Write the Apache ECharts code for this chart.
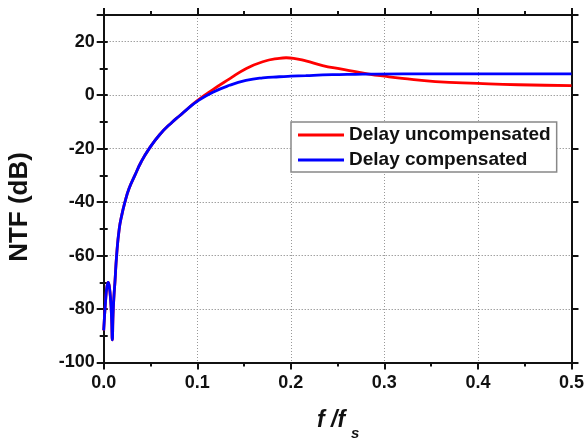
<!DOCTYPE html>
<html>
<head>
<meta charset="utf-8">
<script src="https://cdn.jsdelivr.net/npm/echarts@6/dist/echarts.min.js"></script>
<style>
  html, body { margin: 0; padding: 0; background: #fff; }
  #chart { width: 587px; height: 441px; }
</style>
</head>
<body>
<div id="chart"></div>
<script>
// Noise transfer function magnitude vs. normalised frequency.
// Low-frequency part (notch + rising skirt) is common to both loops.
const freqLow = [0, 0.002, 0.0035, 0.0048, 0.006, 0.0075, 0.0085, 0.0092, 0.0100, 0.011, 0.012,
                 0.0138, 0.0166, 0.0195, 0.0227, 0.027, 0.0333, 0.04, 0.0486, 0.06, 0.0734,
                 0.0812, 0.09];
const ntfLow  = [-88, -77, -71.5, -70, -71.5, -77, -84, -91.5, -82, -75, -70,
                 -60, -50, -44.6, -40, -35, -30, -25, -20, -14.7, -10,
                 -7.7, -5.0];

// Above ~0.1 fs the two cases separate.
const freqUncomp = [0.1, 0.1167, 0.1345, 0.152, 0.17, 0.1877, 0.195, 0.203, 0.216, 0.234,
                    0.2516, 0.269, 0.2835, 0.3, 0.319, 0.3545, 0.4, 0.443, 0.5];
const ntfUncomp  = [-2.0, 2.1, 6.1, 9.9, 12.5, 13.8, 14.0, 13.8, 12.8, 11.1,
                    9.9, 8.8, 7.9, 7.1, 6.3, 5.1, 4.4, 3.9, 3.6];

const freqComp = [0.1, 0.1167, 0.1345, 0.152, 0.17, 0.1877, 0.2, 0.216, 0.234,
                  0.2516, 0.269, 0.29, 0.35, 0.4, 0.5];
const ntfComp  = [-2.3, 1.1, 3.7, 5.5, 6.5, 6.9, 7.1, 7.3, 7.6,
                  7.7, 7.8, 7.9, 8.0, 8.0, 8.0];

const xTicks = ['0.0', '0.1', '0.2', '0.3', '0.4', '0.5'];
const yTicks = [-100, -80, -60, -40, -20, 0, 20];
const seriesNames = ['Delay uncompensated', 'Delay compensated'];

function pairs(xs, ys) { return xs.map((x, i) => [x, ys[i]]); }

const FONT = '"Liberation Sans", Arial, sans-serif';
const black = '#111';
const axisLine = { show: true, onZero: false, lineStyle: { color: black, width: 2 } };

const chart = echarts.init(document.getElementById('chart'), null, { renderer: 'canvas' });

const xBase = { type: 'value', min: 0, max: 0.5, interval: 0.1 };
const yBase = { type: 'value', min: -100, max: 30 };

chart.setOption({
  animation: false,
  backgroundColor: '#fff',
  grid: { left: 103.7, right: 14, top: 15, bottom: 78.5, containLabel: false },
  xAxis: [
    Object.assign({}, xBase, {
      position: 'bottom',
      axisLine: axisLine,
      axisTick: { show: true, length: 7, lineStyle: { color: black, width: 2 } },
      minorTick: { show: true, splitNumber: 2, length: 4, lineStyle: { color: black, width: 2 } },
      axisLabel: {
        margin: 12, color: black, fontFamily: FONT, fontWeight: 'bold', fontSize: 18,
        formatter: v => xTicks[Math.round(v * 10)] || ''
      },
      splitLine: { show: true, lineStyle: { color: '#999', type: [1, 2], width: 1 } }
    }),
    Object.assign({}, xBase, {
      position: 'top',
      axisLine: axisLine,
      axisTick: { show: true, length: 7, lineStyle: { color: black, width: 2 } },
      minorTick: { show: true, splitNumber: 2, length: 4, lineStyle: { color: black, width: 2 } },
      axisLabel: { show: false },
      splitLine: { show: false }
    })
  ],
  yAxis: [
    Object.assign({}, yBase, {
      position: 'left', interval: 20,
      axisLine: axisLine,
      axisTick: { show: true, length: 7, lineStyle: { color: black, width: 2 } },
      axisLabel: {
        margin: 9, color: black, fontFamily: FONT, fontWeight: 'bold', fontSize: 18,
        formatter: v => (yTicks.indexOf(v) >= 0 ? String(v) : '')
      },
      splitLine: { show: true, lineStyle: { color: '#777', type: [1, 2], width: 1 } }
    }),
    Object.assign({}, yBase, {
      position: 'left', interval: 10,
      axisLine: { show: false },
      axisTick: { show: true, length: 4, lineStyle: { color: black, width: 2 } },
      axisLabel: { show: false },
      splitLine: { show: false }
    }),
    Object.assign({}, yBase, {
      position: 'right', interval: 20,
      axisLine: axisLine,
      axisTick: { show: true, length: 7, lineStyle: { color: black, width: 2 } },
      axisLabel: { show: false },
      splitLine: { show: false }
    }),
    Object.assign({}, yBase, {
      position: 'right', interval: 10,
      axisLine: { show: false },
      axisTick: { show: true, length: 4, lineStyle: { color: black, width: 2 } },
      axisLabel: { show: false },
      splitLine: { show: false }
    })
  ],
  legend: {
    orient: 'vertical',
    left: 291, top: 122,
    padding: [3, 6, 2, 7],
    itemGap: 5,
    itemWidth: 46, itemHeight: 3,
    icon: 'rect',
    backgroundColor: '#fff',
    borderColor: '#888', borderWidth: 1.5, borderRadius: 0,
    textStyle: { color: black, fontFamily: FONT, fontWeight: 'bold', fontSize: 19, lineHeight: 20, padding: [0, 0, 0, 0] },
    data: seriesNames
  },
  series: [
    {
      name: seriesNames[0], type: 'line', xAxisIndex: 0, yAxisIndex: 0,
      data: pairs(freqLow.concat(freqUncomp), ntfLow.concat(ntfUncomp)),
      showSymbol: false, smooth: 0.5,
      lineStyle: { color: '#ff0000', width: 2.8 }, itemStyle: { color: '#ff0000' }
    },
    {
      name: seriesNames[1], type: 'line', xAxisIndex: 0, yAxisIndex: 0,
      data: pairs(freqLow.concat(freqComp), ntfLow.concat(ntfComp)),
      showSymbol: false, smooth: 0.5,
      lineStyle: { color: '#0000ff', width: 2.8 }, itemStyle: { color: '#0000ff' }
    }
  ],
  graphic: [
    {
      type: 'text', x: 20, y: 207, rotation: Math.PI / 2,
      style: {
        text: 'NTF (dB)', fill: black, font: 'bold 26px ' + FONT,
        textAlign: 'center', textVerticalAlign: 'middle'
      }
    },
    {
      type: 'text', x: 317, y: 432,
      style: { text: 'f /f', fill: black, font: 'italic bold 23px ' + FONT, textAlign: 'left', textVerticalAlign: 'bottom' }
    },
    {
      type: 'text', x: 351, y: 441,
      style: { text: 's', fill: black, font: 'italic bold 15px ' + FONT, textAlign: 'left', textVerticalAlign: 'bottom' }
    }
  ]
});
</script>
</body>
</html>
